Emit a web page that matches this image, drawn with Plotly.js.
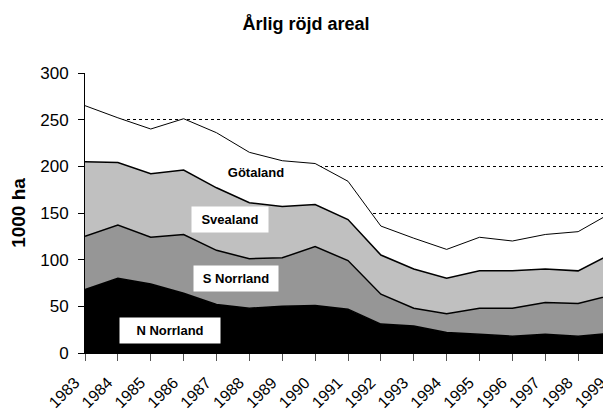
<!DOCTYPE html>
<html><head><meta charset="utf-8">
<script src="https://cdn.plot.ly/plotly-3.0.1.min.js"></script>
<style>html,body{margin:0;padding:0;overflow:hidden;background:#fff;width:603px;height:412px}</style>
</head><body><div id="chart"></div>
<script>
const years = [1983,1984,1985,1986,1987,1988,1989,1990,1991,1992,1993,1994,1995,1996,1997,1998,1999];
const nNorrland = [68,80,74,64,52,48,50,51,47,31,29,22,20,18,20,18,21];
const sNorrland = [57,57,50,63,58,53,52,63,52,32,19,20,28,30,34,35,41];
const svealand  = [80,67,68,69,67,60,55,45,44,42,42,38,40,40,36,35,44];
const gotaland  = [60,48,48,55,59,54,49,44,41,31,33,31,36,32,37,42,44];
const seriesNames = ['N Norrland','S Norrland','Svealand','Götaland'];
const yTicks = [0,50,100,150,200,250,300];

const fills = ['#000000','#969696','#c0c0c0','#ffffff'];
const widths = [1.5,1.5,1.5,1];
const data = [nNorrland,sNorrland,svealand,gotaland].map((v,i)=>({
  x: years, y: v, name: seriesNames[i], type:'scatter', mode:'lines',
  stackgroup:'one', fillcolor: fills[i], line:{color:'#000', width: widths[i]},
  hoverinfo:'skip'
}));

const F = 'Arial, "Liberation Sans", sans-serif';
const ann = (txt,x,y,w,bg)=>({text:'<b>'+txt+'</b>', x:x, y:y, xref:'x', yref:'y', showarrow:false,
  bgcolor:bg, width:w, height:23, font:{family:F,size:13,color:'#000'}});

const layout = {
  width: 620, height: 412,
  margin:{l:85, r:9, t:73, b:59},
  paper_bgcolor:'#fff', plot_bgcolor:'#fff',
  showlegend:false,
  font:{family:F, size:17, color:'#000'},
  title:{text:'<b>Årlig röjd areal</b>', font:{family:F,size:18,color:'#000'},
    x:306/620, xref:'container', xanchor:'center', y:1-24/412, yref:'container', yanchor:'middle'},
  xaxis:{range:[1983,1999], tickvals: years, ticktext: years.map(String), tickangle:-45,
    showgrid:false, zeroline:false, showline:true, linecolor:'#000', linewidth:1,
    ticks:'outside', ticklen:7, tickcolor:'#555', tickfont:{family:F,size:16,color:'#000'},
    ticklabelstandoff:6, ticklabelshift:-10, automargin:false},
  yaxis:{range:[0,300], tickvals:yTicks, showgrid:true, gridcolor:'#000', griddash:'dot', gridwidth:1,
    zeroline:false, showline:true, linecolor:'#000', linewidth:1,
    ticks:'outside', ticklen:6, tickcolor:'#000', tickfont:{family:F,size:17,color:'#000'},
    ticklabelstandoff:6, automargin:false,
    title:{text:'<b>1000 ha</b>', font:{family:F,size:19,color:'#000'}, standoff:9}},
  annotations:[
    ann('Götaland',1988.2,193,72,'rgba(0,0,0,0)'),
    ann('Svealand',1987.4,143,74,'#ffffff'),
    ann('S Norrland',1987.6,79.6,82,'#ffffff'),
    ann('N Norrland',1985.6,24,98,'#ffffff')
  ]
};
Plotly.newPlot('chart', data, layout, {staticPlot:true, displayModeBar:false});
</script></body></html>
